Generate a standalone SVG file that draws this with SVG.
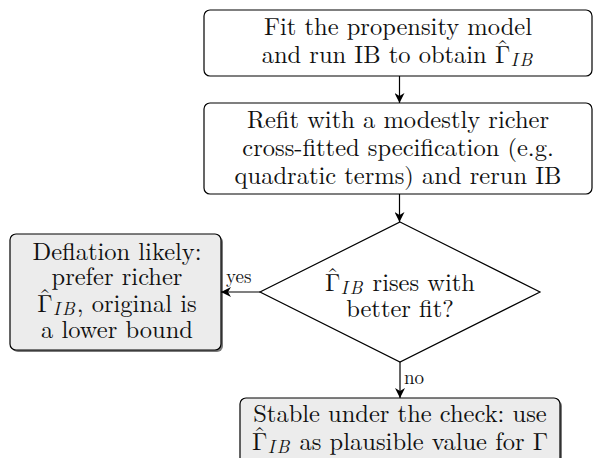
<svg xmlns="http://www.w3.org/2000/svg" width="594" height="458" viewBox="0 0 594 458">
  <defs>
    <marker id="arrow" viewBox="0 0 10 10" refX="10" refY="5" markerWidth="10" markerHeight="10" markerUnits="userSpaceOnUse" orient="auto">
      <path d="M0,0 L10,5 L0,10 L3,5 Z" fill="#000"/>
    </marker>
  </defs>
  <style>
    text { font-family: "Latin Modern Roman", "Liberation Serif", serif; font-size: 24.5px; fill: #111; text-anchor: middle; }
    .box { fill: #fff; stroke: #000; stroke-width: 1.2; }
    .grey { fill: #ececec; stroke: #000; stroke-width: 1.2; }
    .shadow { fill: #7a7a7a; }
    .sub { font-style: italic; font-size: 18px; letter-spacing: 2px; }
    .lbl { font-size: 19px; text-anchor: start; }
    .edge { fill: none; stroke: #000; stroke-width: 1.2; marker-end: url(#arrow); }
  </style>

  <!-- step 1 -->
  <g id="fit">
    <rect class="box" x="204" y="10" width="388" height="66" rx="6"/>
    <text x="398" y="35">Fit the propensity model</text>
    <text x="398" y="63">and run IB to obtain Γ<tspan dx="-13.8" dy="-6">ˆ</tspan><tspan class="sub" dx="2" dy="9">IB</tspan></text>
  </g>

  <!-- step 2 -->
  <g id="refit">
    <rect class="box" x="204" y="103" width="388" height="91" rx="6"/>
    <text x="398" y="128">Refit with a modestly richer</text>
    <text x="398" y="156">cross-fitted specification (e.g.</text>
    <text x="398" y="184">quadratic terms) and rerun IB</text>
  </g>

  <!-- decision -->
  <g id="check">
    <polygon class="box" points="400,222 540,292 400,362 260,292"/>
    <text x="400" y="291">Γ<tspan dx="-13.8" dy="-6">ˆ</tspan><tspan class="sub" dx="2" dy="9">IB</tspan><tspan dy="-3"> rises with</tspan></text>
    <text x="400" y="317">better fit?</text>
  </g>

  <!-- outcome: yes -->
  <g id="deflation">
    <rect class="shadow" x="12" y="236" width="211" height="116" rx="6"/>
    <rect class="grey" x="10" y="234" width="211" height="116" rx="6"/>
    <text x="117" y="260">Deflation likely:</text>
    <text x="117" y="285">prefer richer</text>
    <text x="117" y="312">Γ<tspan dx="-13.8" dy="-6">ˆ</tspan><tspan class="sub" dx="2" dy="9">IB</tspan><tspan dy="-3">, original is</tspan></text>
    <text x="117" y="338">a lower bound</text>
  </g>

  <!-- outcome: no -->
  <g id="stable">
    <rect class="shadow" x="242" y="400" width="320" height="70" rx="6"/>
    <rect class="grey" x="240" y="398" width="320" height="70" rx="6"/>
    <text x="400" y="422">Stable under the check: use</text>
    <text x="400" y="450">Γ<tspan dx="-13.8" dy="-6">ˆ</tspan><tspan class="sub" dx="2" dy="9">IB</tspan><tspan dy="-3"> as plausible value for Γ</tspan></text>
  </g>

  <!-- connectors -->
  <g id="connectors">
    <line class="edge" x1="399.5" y1="76" x2="399.5" y2="103"/>
    <line class="edge" x1="399.5" y1="194" x2="399.5" y2="222"/>
    <line class="edge" x1="260" y1="292" x2="221" y2="292"/>
    <line class="edge" x1="400" y1="362" x2="400" y2="398"/>
    <text class="lbl" x="226" y="283">yes</text>
    <text class="lbl" x="404" y="384">no</text>
  </g>
</svg>
